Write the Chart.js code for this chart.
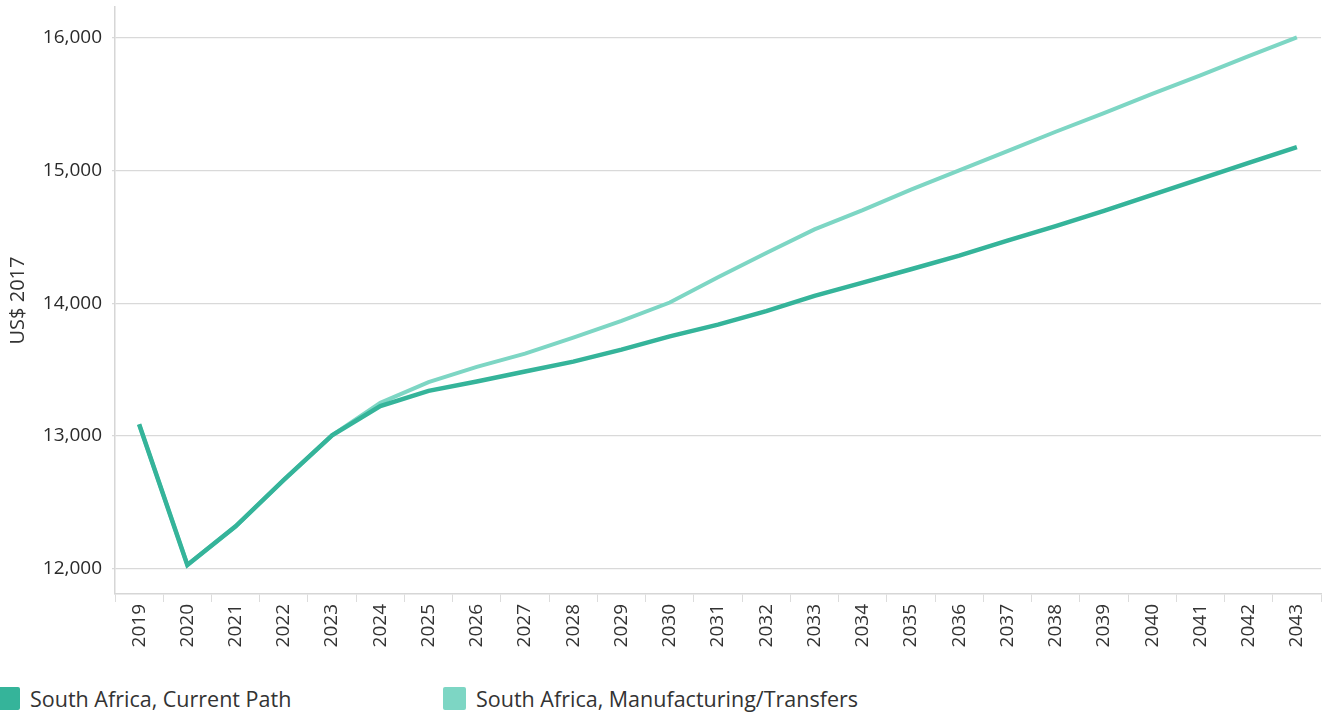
<!DOCTYPE html>
<html>
<head>
<meta charset="utf-8">
<script src="https://cdn.jsdelivr.net/npm/chart.js@4/dist/chart.umd.min.js"></script>
<style>
  body { margin: 0; background: #fff; font-family: "Open Sans", sans-serif; }
  #wrap { position: relative; width: 1328px; height: 718px; }
  #box { position: absolute; left: 0; top: 0; width: 1328px; height: 672px; }
  #legenda { position: absolute; left: -3px; top: 684px; display: flex; }
  .item { display: flex; align-items: center; font-size: 21.5px; color: #333; white-space: nowrap; }
  .item span.cor { width: 23px; height: 23px; border-radius: 2px; margin-right: 10px; }
</style>
</head>
<body>
<div id="wrap">
  <div id="box"><canvas id="grafico_pib"></canvas></div>
  <div id="legenda"></div>
</div>
<script>
const grafico = document.querySelector("#grafico_pib")

const anos = ['2019', '2020', '2021', '2022', '2023', '2024', '2025', '2026', '2027', '2028', '2029', '2030', '2031',
    '2032', '2033', '2034', '2035', '2036', '2037', '2038', '2039', '2040', '2041', '2042', '2043']

const current_path = [13088, 12030, 12320, 12670, 13005, 13226, 13340, 13410, 13486, 13560, 13650, 13750, 13838,
    13940, 14055, 14155, 14255, 14358, 14470, 14580, 14695, 14815, 14935, 15055, 15174]

const manufacturing = [13088, 12030, 12320, 12670, 13005, 13250, 13406, 13520, 13620, 13740, 13866, 14005, 14195,
    14377, 14555, 14700, 14855, 15000, 15145, 15290, 15430, 15575, 15715, 15860, 16000]

const y_ticks = [12000, 13000, 14000, 15000, 16000]

const fonte = { family: 'Open Sans', size: 19 }

const data = {
    labels: anos,
    datasets: [
        {
            label: 'South Africa, Current Path',
            data: current_path,
            borderColor: 'rgb(53, 180, 154)',
            backgroundColor: 'rgb(53, 180, 154)',
            borderWidth: 4.5,
            pointRadius: 0,
            tension: 0,
        },
        {
            label: 'South Africa, Manufacturing/Transfers',
            data: manufacturing,
            borderColor: 'rgb(125, 214, 196)',
            backgroundColor: 'rgb(125, 214, 196)',
            borderWidth: 4,
            pointRadius: 0,
            tension: 0,
        },
    ]
}

const config = {
    type: 'line',
    data: data,
    options: {
        responsive: true,
        maintainAspectRatio: false,
        animation: false,
        layout: { padding: { top: 7, right: 7, left: 4 } },
        plugins: {
            legend: { display: false },
            tooltip: { enabled: false },
        },
        scales: {
            x: {
                offset: true,
                grid: { offset: true, drawOnChartArea: false, tickLength: 8, color: '#dcdcdc' },
                border: { color: '#d6d6d6', width: 1.5 },
                ticks: { color: '#333', font: fonte, minRotation: 90, maxRotation: 90, padding: 2 },
                afterFit: (scale) => { scale.height = 78 },
            },
            y: {
                min: 11811,
                max: 16229,
                afterBuildTicks: (scale) => { scale.ticks = y_ticks.map(v => ({ value: v })) },
                grid: { color: '#d9d9d9', lineWidth: 1.2, tickLength: 3 },
                border: { color: '#d6d6d6', width: 1.5 },
                ticks: {
                    color: '#2a2a2a',
                    font: fonte,
                    padding: 10,
                    callback: (v) => v.toLocaleString('en-US'),
                },
                title: { display: true, text: 'US$ 2017', color: '#333', font: { family: 'Open Sans', size: 20 }, padding: 2 },
                afterFit: (scale) => {
                    scale.width = 111
                    scale.paddingTop = 0
                    scale.paddingBottom = 0
                },
            },
        },
    },
}

const graficoPib = new Chart(grafico, config)

// legenda em HTML, montada a partir dos datasets
const legenda = document.getElementById('legenda')
const larguras = [446, 500]
data.datasets.forEach((ds, i) => {
    const item = document.createElement('div')
    item.className = 'item'
    item.style.width = larguras[i] + 'px'
    item.innerHTML = `<span class="cor" style="background:${ds.backgroundColor}"></span>${ds.label}`
    legenda.appendChild(item)
})
</script>
</body>
</html>
